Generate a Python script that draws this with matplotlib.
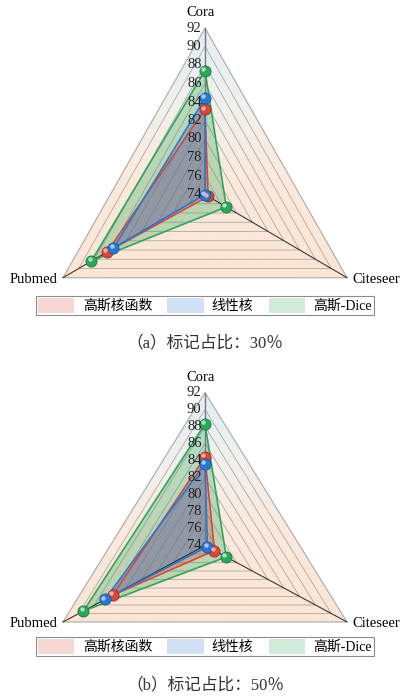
import numpy as np
import matplotlib.pyplot as plt
import matplotlib.transforms as mtransforms
from matplotlib.colors import LinearSegmentedColormap
from matplotlib.patches import Patch, Polygon

# === 資料 ===
datasets = ["Cora", "Citeseer", "Pubmed"]
methods = ["高斯核函数", "线性核", "高斯-Dice"]
r_ticks = [74, 76, 78, 80, 82, 84, 86, 88, 90, 92]

# 標記占比 30%
gauss_30 = [83.2, 74.4, 86.4]
linear_30 = [84.4, 74.0, 85.6]
dice_30 = [87.4, 76.7, 88.4]

# 標記占比 50%
gauss_50 = [84.4, 75.2, 85.7]
linear_50 = [83.6, 74.3, 86.7]
dice_50 = [88.3, 76.7, 89.4]

# === 樣式 ===
W, H = 401, 696
serif_cjk = ["Liberation Serif", "Noto Sans CJK SC"]
angles = np.deg2rad([90, -30, 210])
line_colors = ["#d8473b", "#2b78d2", "#2ea65a"]
fill_alpha = [0.3, 0.33, 0.3]
edge_colors = ["#a8291f", "#1a56a0", "#1d7a40"]
shine_colors = ["#f4aaa2", "#a5cbf4", "#a8e2bc"]
r_min, r_max = r_ticks[0], r_ticks[-1]

bg_cmap = LinearSegmentedColormap.from_list(
    "bg", [(0.0, "#fbe5d4"), (0.4, "#fbe9dc"), (0.68, "#f3f0ec"), (1.0, "#e0eef5")])


def to_xy(values):
    r = (np.asarray(values, dtype=float) - r_min) / (r_max - r_min)
    return r * np.cos(angles), r * np.sin(angles)


def draw_panel(ax, series, cx, cy, rx, ry, band_top, band_bottom):
    ax.set_xlim(-cx / rx, (W - cx) / rx)
    ax.set_ylim((cy - band_bottom) / ry, (cy - band_top) / ry)
    ax.axis("off")

    # 背景漸層（裁成三角形）
    ox, oy = np.cos(angles), np.sin(angles)
    tri = Polygon(np.column_stack([ox, oy]), closed=True, transform=ax.transData)
    grad = np.linspace(0, 1, 256).reshape(-1, 1)
    im = ax.imshow(grad, cmap=bg_cmap, origin="lower", aspect="auto",
                   extent=[ox.min(), ox.max(), oy.min(), oy.max()], zorder=0)
    im.set_clip_path(tri)

    # 三角形格線
    for t in r_ticks[1:]:
        gx, gy = to_xy([t] * 3)
        ax.fill(gx, gy, facecolor="none", edgecolor="#a9a9a9",
                lw=0.6 if t < r_max else 0.8, zorder=1)

    # 填色（綠色在最下層）
    for k in (2, 0, 1):
        x, y = to_xy(series[k])
        ax.fill(x, y, facecolor=line_colors[k], alpha=fill_alpha[k],
                edgecolor="none", zorder=2)

    # 軸線
    ax.plot([0, ox[0]], [0, oy[0]], color="#7a7a7a", lw=1.0, zorder=3)
    for k in (1, 2):
        ax.plot([0, ox[k]], [0, oy[k]], color="#222222", lw=0.7, zorder=3)

    # 折線與球形標記
    shift = mtransforms.ScaledTranslation(-1.3 / 72, 1.3 / 72, ax.figure.dpi_scale_trans)
    for vals, c in zip(series, line_colors):
        x, y = to_xy(vals)
        ax.plot(np.append(x, x[0]), np.append(y, y[0]), color=c, lw=1.2, zorder=4)
    for vals, c, ec, sc in zip(series, line_colors, edge_colors, shine_colors):
        x, y = to_xy(vals)
        ax.plot(x, y, "o", ms=8, mfc=c, mec=ec, mew=0.6, zorder=5)
        ax.plot(x, y, "o", ms=3.2, mfc=sc, mec="none", zorder=6,
                transform=ax.transData + shift)

    # 刻度標籤
    for t in r_ticks:
        ax.annotate(str(t), xy=(0, (t - r_min) / (r_max - r_min)),
                    xytext=(-2.5, 0), textcoords="offset points",
                    ha="right", va="center", fontsize=10.5,
                    family="Liberation Serif", color="#222222", zorder=7)

    # 資料集名稱
    ax.annotate(datasets[0], xy=(ox[0], oy[0]), xytext=(-3.5, 11),
                textcoords="offset points", ha="center", va="center",
                fontsize=10.5, family="Liberation Serif")
    ax.annotate(datasets[1], xy=(ox[1], oy[1]), xytext=(4, -1),
                textcoords="offset points", ha="left", va="center",
                fontsize=10.5, family="Liberation Serif")
    ax.annotate(datasets[2], xy=(ox[2], oy[2]), xytext=(-4, -1),
                textcoords="offset points", ha="right", va="center",
                fontsize=10.5, family="Liberation Serif")


fig = plt.figure(figsize=(W / 100, H / 100), dpi=100)

panels = [
    ([gauss_30, linear_30, dice_30], 205, 194.5, 164, 166.5, 0, 348, 305.5, 343, "（a）标记占比：30％"),
    ([gauss_50, linear_50, dice_50], 205, 545.5, 164, 153, 348, 696, 646.5, 685, "（b）标记占比：50％"),
]

for series, cx, cy, rx, ry, top, bottom, leg_y, cap_y, caption in panels:
    ax = fig.add_axes([0, 1 - bottom / H, 1, (bottom - top) / H])
    draw_panel(ax, series, cx, cy, rx, ry, top, bottom)

    handles = [Patch(facecolor=c, alpha=0.22, edgecolor="none") for c in line_colors]
    leg = fig.legend(handles, methods, loc="center", bbox_to_anchor=(205 / W, 1 - leg_y / H),
                     ncol=3, prop={"family": serif_cjk, "size": 10},
                     handlelength=2.6, handleheight=1.3, handletextpad=0.6,
                     columnspacing=1.1, borderpad=0.15, borderaxespad=0,
                     frameon=True, fancybox=False, edgecolor="#8c8c8c", framealpha=1)
    leg.get_frame().set_linewidth(0.8)

    fig.text(205 / W, 1 - cap_y / H, caption, ha="center", va="center",
             fontsize=12, family=serif_cjk, color="#333333")

plt.savefig("out.png", dpi=100)
plt.close()
